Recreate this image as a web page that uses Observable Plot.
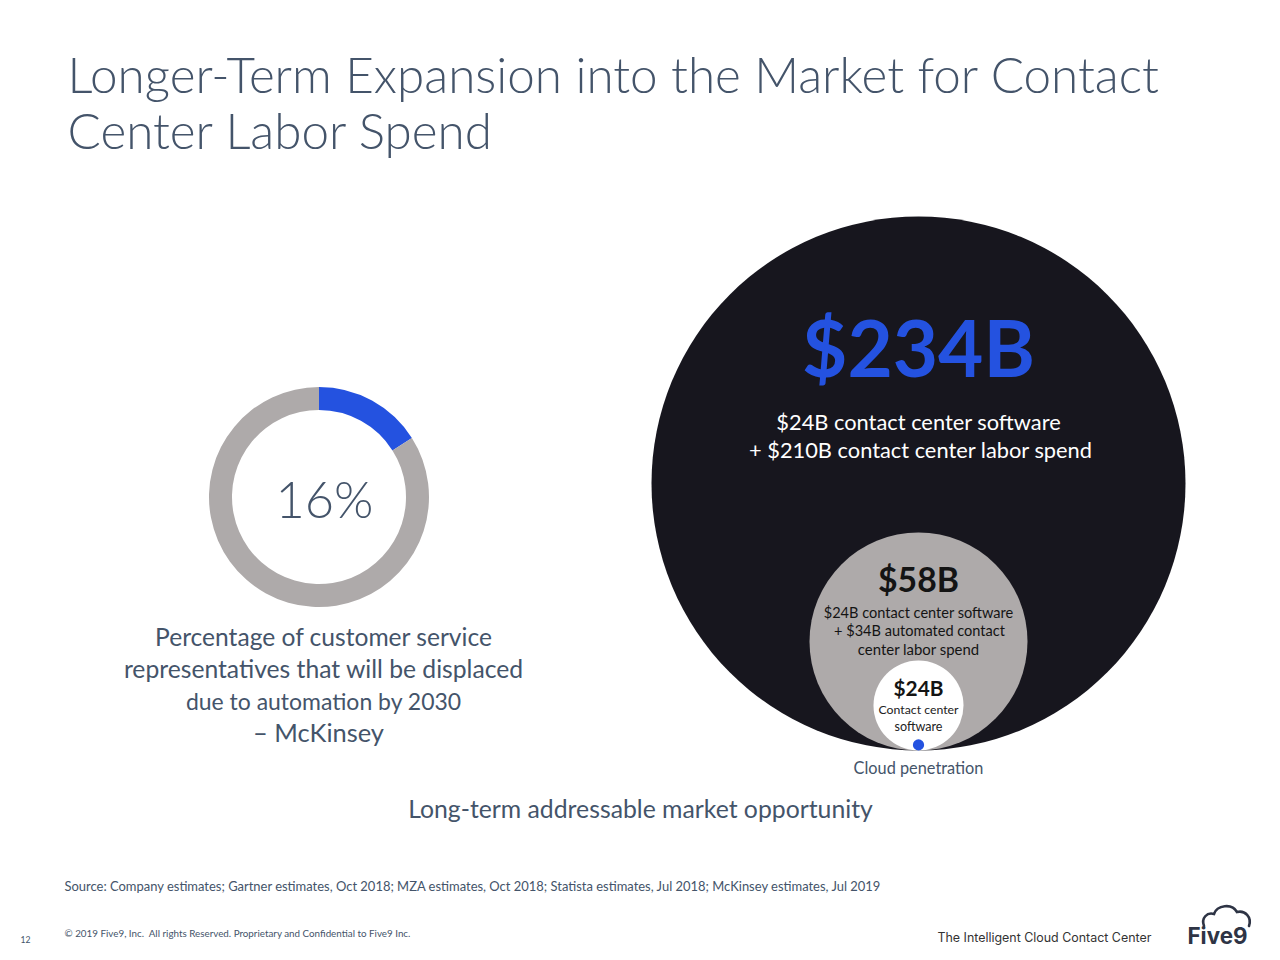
<!DOCTYPE html>
<html>
<head>
<meta charset="utf-8">
<script src="https://cdn.jsdelivr.net/npm/d3@7"></script>
<script src="https://cdn.jsdelivr.net/npm/@observablehq/plot@0.6"></script>
<style>
  html, body { margin: 0; padding: 0; background: #ffffff; }
  #chart { width: 1280px; height: 960px; }
</style>
</head>
<body>
<div id="chart"></div>
<script>
// ---------------- DATA ----------------
const titleLines = ["Longer-Term Expansion into the Market for Contact", "Center Labor Spend"];

const donutLabels = ["Displaced by automation", "Not displaced"];
const donutShares = [16, 84];
const donutCaption = [
  "Percentage of customer service",
  "representatives that will be displaced",
  "due to automation by 2030",
  "\u2013 McKinsey"
];

const marketNames = ["Contact center software + labor spend", "Software + automated labor spend", "Contact center software", "Cloud penetration"];
const marketValues = [234, 58, 24, 3]; // $B (cloud penetration)
const marketLabels = ["$234B", "$58B", "$24B", ""];
const marketNotes = [
  ["$24B contact center software", "+ $210B contact center labor spend"],
  ["$24B contact center software", "+ $34B automated contact", "center labor spend"],
  ["Contact center", "software"],
  []
];
const marketAxisTitle = "Long-term addressable market opportunity";

const sourceNote = "Source: Company estimates; Gartner estimates, Oct 2018; MZA estimates, Oct 2018; Statista estimates, Jul 2018; McKinsey estimates, Jul 2019";
const copyrightNote = "\u00A9 2019 Five9, Inc.  All rights Reserved. Proprietary and Confidential to Five9 Inc.";
const pageNumber = "12";
const tagline = "The Intelligent Cloud Contact Center";
const logoText = "Five9";

// ---------------- LAYOUT / STYLE ----------------
const C = {
  slate: "#44546A",
  blue: "#2452E0",
  ink: "#17161E",
  gray: "#AEAAAA",
  dark: "#141414",
  logo: "#2E3445"
};
const L = {
  cx: 918, base: 750,
  rScale: { type: "linear", domain: [0, 24, 58, 234], range: [0, 45, 109, 267] },
  circleFills: [C.ink, C.gray, "#ffffff", C.blue],
  donut: { cx: 319, cy: 497, inner: 87, outer: 110 },
  donutColors: [C.blue, C.gray]
};
const SANS = "Lato, 'Open Sans', sans-serif";

// text fitting with canvas measurement
const ctx = document.createElement("canvas").getContext("2d");
function fit(text, weight, family, width) {
  ctx.font = `${weight} 100px ${family}`;
  return 100 * width / ctx.measureText(text).width;
}
// rows: [text, x, baselineY, targetWidth, fill]
function textMark(rows, { weight = 400, family = SANS, anchor = "middle", shared = false } = {}) {
  let sizes = rows.map(r => fit(r[0], weight, family, r[3]));
  if (shared) { const m = sizes[0]; sizes = sizes.map(() => m); }
  const data = rows.map((r, i) => ({ text: r[0], x: r[1], y: r[2], size: sizes[i], fill: r[4] }));
  return Plot.text(data, {
    x: "x", y: "y", text: "text", fill: "fill", fontSize: "size",
    fontWeight: weight, fontFamily: family, textAnchor: anchor, lineAnchor: "bottom"
  });
}

// circles from data via r scale
const rS = Plot.scale({ r: L.rScale });
const circles = marketValues.map((v, i) => ({
  name: marketNames[i], value: v, label: marketLabels[i],
  x: L.cx, y: L.base - rS.apply(v), fill: L.circleFills[i]
}));

function donutMark(index, scales) {
  const sx = scales && scales.x ? scales.x : v => v;
  const sy = scales && scales.y ? scales.y : v => v;
  const arcs = d3.pie().sort(null).value(d => d)(donutShares);
  const arc = d3.arc().innerRadius(L.donut.inner).outerRadius(L.donut.outer);
  const g = d3.create("svg:g").attr("aria-label", "donut")
    .attr("transform", `translate(${sx(L.donut.cx)},${sy(L.donut.cy)})`);
  g.selectAll("path").data(arcs).join("path")
    .attr("d", arc).attr("fill", (d, i) => L.donutColors[i])
    .append("title").text((d, i) => `${donutLabels[i]}: ${donutShares[i]}%`);
  return g.node();
}
function cloudMark(index, scales) {
  const g = d3.create("svg:g").attr("aria-label", "logo-cloud");
  g.append("path")
    .attr("d", "M1204,926 C1201,918 1207,912 1214,914 C1217,905 1232,903 1237,912 C1245,910 1252,917 1249,926")
    .attr("fill", "none").attr("stroke", C.logo).attr("stroke-width", 2.6).attr("stroke-linecap", "round");
  return g.node();
}

const plot = Plot.plot({
  width: 1280, height: 960,
  margin: 0,
  x: { domain: [0, 1280], range: [0, 1280], axis: null },
  y: { domain: [0, 960], range: [0, 960], axis: null },
  r: L.rScale,
  style: { background: "#ffffff", overflow: "visible" },
  marks: [
    // title
    textMark([
      [titleLines[0], 67, 92, 1093, C.slate],
      [titleLines[1], 67, 148, 414, C.slate]
    ], { weight: 300, anchor: "start", shared: true }),

    // donut
    donutMark,
    textMark([[donutShares[0] + "%", 324, 517, 98, C.slate]], { weight: 300 }),
    textMark([
      [donutCaption[0], 323, 645, 338, C.slate],
      [donutCaption[1], 323, 677, 400, C.slate],
      [donutCaption[2], 323, 709, 276, C.slate],
      [donutCaption[3], 318, 741, 131, C.slate]
    ]),

    // nested market circles
    Plot.dot(circles, { x: "x", y: "y", r: "value", fill: "fill", title: d => `${d.name}: $${d.value}B` }),

    textMark([
      [marketLabels[0], 918, 376, 233, C.blue],
      [marketLabels[1], 918, 591, 81, C.dark],
      [marketLabels[2], 918, 695, 50, C.dark]
    ], { weight: 700 }),
    textMark([
      [marketNotes[0][0], 918, 429, 285, "#ffffff"],
      [marketNotes[0][1], 920, 457, 344, "#ffffff"],
      [marketNotes[1][0], 918, 617, 190, C.dark],
      [marketNotes[1][1], 919, 635, 171, C.dark],
      [marketNotes[1][2], 918, 654, 122, C.dark],
      [marketNotes[2][0], 918, 713, 80, "#222222"],
      [marketNotes[2][1], 918, 730, 48, "#222222"],
      [marketNames[3], 918, 773, 130, C.slate],
      [marketAxisTitle, 640, 817, 465, C.slate]
    ]),

    // footer
    textMark([
      [sourceNote, 64, 890, 819, C.slate],
      [copyrightNote, 64, 936, 347, C.slate],
      [pageNumber, 20, 942, 10, C.slate]
    ], { anchor: "start" }),
    textMark([[tagline, 937, 941, 214, "#333333"]], { anchor: "start", family: "Inter, Roboto, sans-serif" }),
    textMark([[logoText, 1187, 943, 60, C.logo]], { anchor: "start", weight: 700, family: "Inter, Roboto, sans-serif" }),
    cloudMark
  ]
});

document.getElementById("chart").appendChild(plot);
</script>
</body>
</html>
